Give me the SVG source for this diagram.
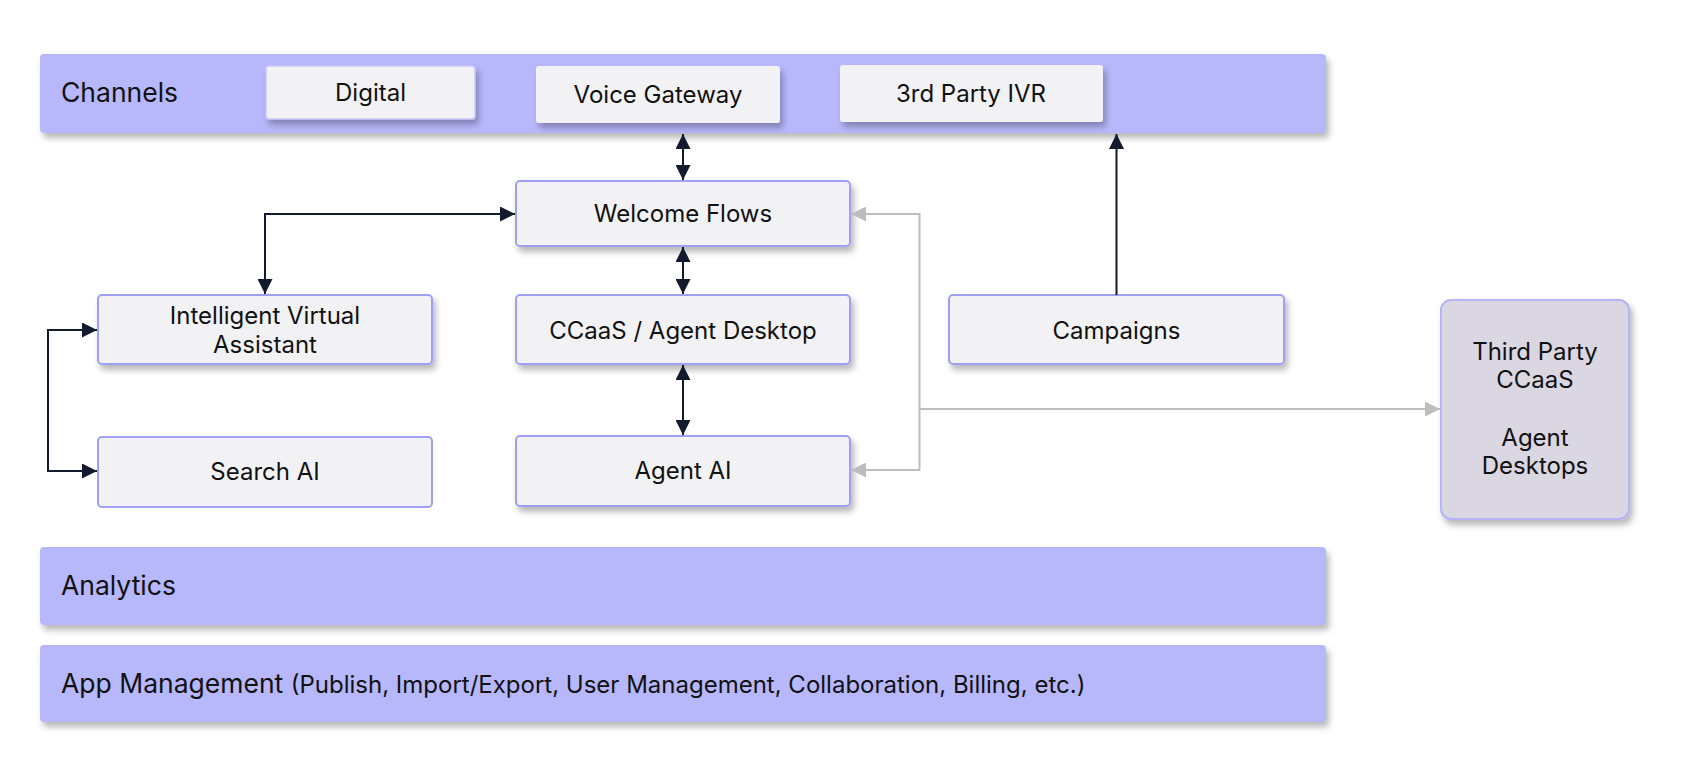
<svg xmlns="http://www.w3.org/2000/svg" width="1689" height="777" viewBox="0 0 1689 777">
<style>
.band{fill:#b7b7fb}
.node{fill:#f2f2f4;stroke:#9f9ff6;stroke-width:2}
.chip{fill:#f2f2f4}
.tp{fill:#dad6e2;stroke:#b4b4f6;stroke-width:2}
text{font-family:Inter,"Noto Sans","Liberation Sans",sans-serif;fill:#111;}
.lbl{font-size:24px;text-anchor:middle}
.big{font-size:26.5px}
.small{font-size:24px}
.dark{fill:none;stroke:#131a2e;stroke-width:2}
.grey{fill:none;stroke:#bdbdbd;stroke-width:2}
</style>
<defs>
<filter id="sh" x="-10%" y="-20%" width="130%" height="160%">
<feDropShadow dx="3" dy="5" stdDeviation="3" flood-color="#000" flood-opacity="0.28"/>
</filter>
<marker id="ad" viewBox="0 0 10 10" refX="10" refY="5" markerWidth="7.5" markerHeight="7.5" markerUnits="strokeWidth" orient="auto-start-reverse">
<path d="M0,0 L10,5 L0,10 z" fill="#131a2e"/>
</marker>
<marker id="ag" viewBox="0 0 10 10" refX="10" refY="5" markerWidth="7.5" markerHeight="7.5" markerUnits="strokeWidth" orient="auto-start-reverse">
<path d="M0,0 L10,5 L0,10 z" fill="#bdbdbd"/>
</marker>
</defs>
<rect width="1689" height="777" fill="#fff"/>

<g id="channels">
<rect class="band" x="40" y="54" width="1286" height="79" rx="4" filter="url(#sh)"/>
<text class="big" x="61" y="102">Channels</text>
</g>
<g id="digital">
<rect class="chip" x="266" y="66" width="209" height="53" rx="3" stroke="#c8c8f8" stroke-width="1.5" filter="url(#sh)"/>
<text class="lbl" x="370.5" y="101">Digital</text>
</g>
<g id="voice-gateway">
<rect class="chip" x="536" y="66" width="244" height="57" rx="3" filter="url(#sh)"/>
<text class="lbl" x="658" y="103">Voice Gateway</text>
</g>
<g id="third-party-ivr">
<rect class="chip" x="840" y="65" width="263" height="57" rx="3" filter="url(#sh)"/>
<text class="lbl" x="971" y="102">3rd Party IVR</text>
</g>

<g id="welcome-flows">
<rect class="node" x="516" y="181" width="334" height="65" rx="4" filter="url(#sh)"/>
<text class="lbl" x="683" y="222">Welcome Flows</text>
</g>
<g id="iva">
<rect class="node" x="98" y="295" width="334" height="69" rx="4" filter="url(#sh)"/>
<text class="lbl" x="265" y="324">Intelligent Virtual</text>
<text class="lbl" x="265" y="353">Assistant</text>
</g>
<g id="ccaas">
<rect class="node" x="516" y="295" width="334" height="69" rx="4" filter="url(#sh)"/>
<text class="lbl" x="683" y="339">CCaaS / Agent Desktop</text>
</g>
<g id="campaigns">
<rect class="node" x="949" y="295" width="335" height="69" rx="4" filter="url(#sh)"/>
<text class="lbl" x="1116.5" y="339">Campaigns</text>
</g>
<g id="search-ai">
<rect class="node" x="98" y="437" width="334" height="70" rx="4"/>
<text class="lbl" x="265" y="480">Search AI</text>
</g>
<g id="agent-ai">
<rect class="node" x="516" y="436" width="334" height="70" rx="4" filter="url(#sh)"/>
<text class="lbl" x="683" y="479">Agent AI</text>
</g>
<g id="third-party-ccaas">
<rect class="tp" x="1441" y="300" width="188" height="219" rx="10" filter="url(#sh)"/>
<text class="lbl" x="1535" y="360">Third Party</text>
<text class="lbl" x="1535" y="388">CCaaS</text>
<text class="lbl" x="1535" y="446">Agent</text>
<text class="lbl" x="1535" y="474">Desktops</text>
</g>

<g id="analytics">
<rect class="band" x="40" y="547" width="1286" height="78" rx="4" filter="url(#sh)"/>
<text class="big" x="61" y="595">Analytics</text>
</g>
<g id="app-management">
<rect class="band" x="40" y="645" width="1286" height="77" rx="4" filter="url(#sh)"/>
<text x="61" y="693"><tspan class="big">App Management </tspan><tspan class="small">(Publish, Import/Export, User Management, Collaboration, Billing, etc.)</tspan></text>
</g>

<g id="connectors">
<path class="dark" d="M683,134 L683,180" marker-start="url(#ad)" marker-end="url(#ad)"/>
<path class="dark" d="M683,247 L683,294" marker-start="url(#ad)" marker-end="url(#ad)"/>
<path class="dark" d="M683,365 L683,435" marker-start="url(#ad)" marker-end="url(#ad)"/>
<path class="dark" d="M265,294 L265,214 L515,214" marker-start="url(#ad)" marker-end="url(#ad)"/>
<path class="dark" d="M97,330 L48,330 L48,471 L97,471" marker-start="url(#ad)" marker-end="url(#ad)"/>
<path class="dark" d="M1116.5,295 L1116.5,134" marker-end="url(#ad)"/>
<path class="grey" d="M851,214 L919.5,214 L919.5,470 L851,470" marker-start="url(#ag)" marker-end="url(#ag)"/>
<path class="grey" d="M919.5,409 L1440,409" marker-end="url(#ag)"/>
</g>
</svg>
